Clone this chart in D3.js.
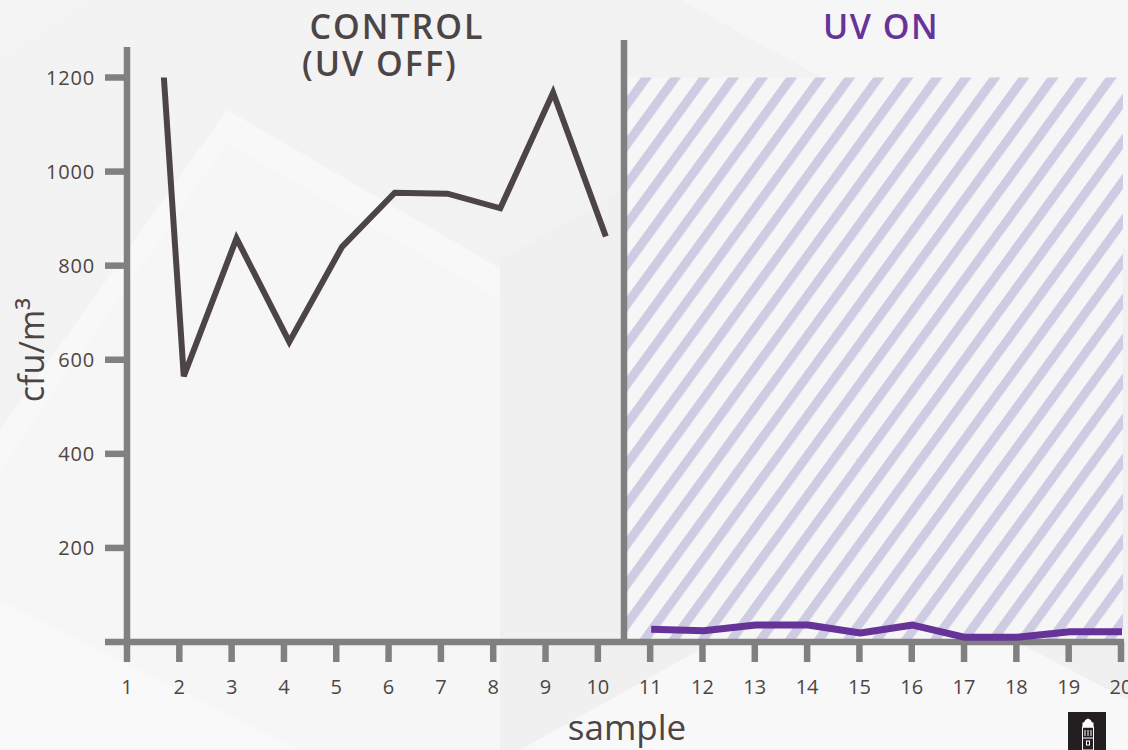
<!DOCTYPE html>
<html>
<head>
<meta charset="utf-8">
<script src="https://cdn.jsdelivr.net/npm/d3@7/dist/d3.min.js"></script>
<style>
  html, body { margin: 0; padding: 0; background: #f4f4f4; }
  svg { display: block; }
</style>
</head>
<body>
<svg id="chart" width="1128" height="750"></svg>
<script>
// chart data
var sampleTicks = [1, 2, 3, 4, 5, 6, 7, 8, 9, 10, 11, 12, 13, 14, 15, 16, 17, 18, 19, 20];
var yTicks = [200, 400, 600, 800, 1000, 1200];

var controlSamples = [1, 2, 3, 4, 5, 6, 7, 8, 9, 10];
var controlValues = [2250, 565, 858, 638, 840, 955, 953, 922, 1168, 862];

var uvSamples = [11, 12, 13, 14, 15, 16, 17, 18, 19, 20];
var uvValues = [27, 24, 36, 36, 19, 36, 10, 10, 22, 22];

var darkText = "#4d4545";
var axisGrey = "#808080";
var purple = "#663399";

var svg = d3.select("#chart");
var W = 1128, H = 750;

// scales
var x = d3.scaleLinear().domain([1, 20]).range([127, 1121]);
var y = d3.scaleLinear().domain([0, 1200]).range([642, 77.5]);
// the control trace sits a few px right of the ticks in the original
var xCtrl = d3.scaleLinear().domain([1, 10]).range([x(1) + 4, x(10) + 8]);

var defs = svg.append("defs");

// background
var bg = defs.append("linearGradient").attr("id", "bgGrad")
    .attr("x1", "0").attr("y1", "0").attr("x2", "1").attr("y2", "1");
bg.append("stop").attr("offset", "0%").attr("stop-color", "#f3f3f3");
bg.append("stop").attr("offset", "100%").attr("stop-color", "#f1f1f1");
svg.append("rect").attr("width", W).attr("height", H).attr("fill", "url(#bgGrad)");

// faint cube / hexagon shapes in the backdrop
var shapes = [
    {pts: [[0, 430], [227, 110], [520, 280], [520, 750], [0, 750]], fill: "#f8f8f8"},
    {pts: [[0, 470], [227, 143], [500, 300], [500, 750], [0, 750]], fill: "#f6f6f6"},
    {pts: [[500, 260], [800, 90], [1128, 270], [1128, 750], [500, 750]], fill: "#f0f0f0"},
    {pts: [[0, 600], [300, 750], [0, 750]], fill: "#f9f9f9"},
    {pts: [[520, 750], [860, 560], [1128, 700], [1128, 750]], fill: "#f8f8f8"},
    {pts: [[680, 0], [1128, 0], [1128, 250], [900, 120]], fill: "#f6f6f6"}
];
svg.append("g").selectAll("polygon").data(shapes).join("polygon")
    .attr("points", d => d.pts.map(p => p.join(",")).join(" "))
    .attr("fill", d => d.fill);

// hatch pattern for UV ON region
var pat = defs.append("pattern").attr("id", "hatch")
    .attr("patternUnits", "userSpaceOnUse")
    .attr("width", 23.5).attr("height", 23.5)
    .attr("patternTransform", "rotate(36)");
pat.append("rect").attr("width", 23.5).attr("height", 23.5).attr("fill", "#f6f6f6");
pat.append("rect").attr("x", 0).attr("y", 0).attr("width", 9).attr("height", 23.5)
    .attr("fill", "#cfcbe3");

svg.append("rect")
    .attr("x", x(10.5) + 3)
    .attr("y", y(1200))
    .attr("width", x(20) + 2 - x(10.5) - 3)
    .attr("height", y(0) - y(1200))
    .attr("fill", "url(#hatch)");

// clip so the first control point gets cut at the top of the scale
defs.append("clipPath").attr("id", "plotClip")
    .append("rect")
    .attr("x", 90).attr("y", y(1200))
    .attr("width", W).attr("height", y(0) - y(1200) + 10);

// axes
var axes = svg.append("g");
axes.append("line")
    .attr("x1", 127).attr("x2", 127)
    .attr("y1", 47).attr("y2", y(0))
    .attr("stroke", axisGrey).attr("stroke-width", 6.5);
axes.append("line")
    .attr("x1", 105).attr("x2", x(20) + 3)
    .attr("y1", y(0)).attr("y2", y(0))
    .attr("stroke", axisGrey).attr("stroke-width", 6.5);
// divider between control and UV ON
axes.append("line")
    .attr("x1", x(10.5)).attr("x2", x(10.5))
    .attr("y1", 40).attr("y2", y(0))
    .attr("stroke", axisGrey).attr("stroke-width", 6.5);

axes.selectAll(".ytick").data(yTicks).join("line")
    .attr("class", "ytick")
    .attr("x1", 105).attr("x2", 127)
    .attr("y1", d => y(d)).attr("y2", d => y(d))
    .attr("stroke", axisGrey).attr("stroke-width", 6.5);

axes.selectAll(".xtick").data(sampleTicks).join("line")
    .attr("class", "xtick")
    .attr("x1", d => x(d)).attr("x2", d => x(d))
    .attr("y1", y(0)).attr("y2", 662)
    .attr("stroke", axisGrey).attr("stroke-width", 6.5);

var lblFont = "'Open Sans', 'Noto Sans', sans-serif";

axes.selectAll(".ylab").data(yTicks).join("text")
    .attr("class", "ylab")
    .attr("x", 95).attr("y", d => y(d))
    .attr("dy", "0.36em")
    .attr("text-anchor", "end")
    .style("font-family", lblFont)
    .style("font-size", "20px")
    .style("letter-spacing", "0.8px")
    .attr("fill", darkText)
    .text(d => d);

axes.selectAll(".xlab").data(sampleTicks).join("text")
    .attr("class", "xlab")
    .attr("x", d => x(d)).attr("y", 694)
    .attr("text-anchor", "middle")
    .style("font-family", lblFont)
    .style("font-size", "20px")
    .attr("fill", darkText)
    .text(d => d);

// axis titles
svg.append("text")
    .attr("x", 627).attr("y", 740)
    .attr("text-anchor", "middle")
    .style("font-family", lblFont)
    .style("font-size", "35px")
    .attr("fill", darkText)
    .text("sample");

svg.append("text")
    .attr("transform", "translate(44,350) rotate(-90)")
    .attr("text-anchor", "middle")
    .style("font-family", lblFont)
    .style("font-size", "34px")
    .attr("fill", darkText)
    .text("cfu/m³");

// panel titles (two-line control title as one text block)
var titleFont = "'Open Sans', 'Noto Sans', sans-serif";
var ctrlTitle = svg.append("text")
    .style("font-family", titleFont).style("font-weight", "600")
    .style("font-size", "34px").style("letter-spacing", "2px")
    .attr("fill", darkText);
ctrlTitle.append("tspan")
    .attr("x", 397).attr("y", 39)
    .attr("text-anchor", "middle")
    .text("CONTROL");
ctrlTitle.append("tspan")
    .attr("x", 302).attr("y", 76)
    .attr("text-anchor", "start")
    .text("(UV OFF)");

svg.append("text")
    .attr("x", 881).attr("y", 39)
    .attr("text-anchor", "middle")
    .style("font-family", titleFont).style("font-weight", "600")
    .style("font-size", "34px").style("letter-spacing", "1.5px")
    .attr("fill", purple)
    .text("UV ON");

// lines
var control = controlSamples.map((s, i) => ({s: s, v: controlValues[i]}));
var uv = uvSamples.map((s, i) => ({s: s, v: uvValues[i]}));

svg.append("path")
    .datum(control)
    .attr("clip-path", "url(#plotClip)")
    .attr("d", d3.line().x(d => xCtrl(d.s)).y(d => y(d.v)))
    .attr("fill", "none")
    .attr("stroke", darkText)
    .attr("stroke-width", 6)
    .attr("stroke-linejoin", "miter");

svg.append("path")
    .datum(uv)
    .attr("d", d3.line().x(d => x(d.s) + 1).y(d => y(d.v)))
    .attr("fill", "none")
    .attr("stroke", purple)
    .attr("stroke-width", 7)
    .attr("stroke-linejoin", "round");

// little logo, bottom right
var logo = svg.append("g").attr("transform", "translate(1068,712)");
logo.append("rect").attr("width", 38).attr("height", 38).attr("fill", "#231f20");
var tw = logo.append("g").attr("fill", "none").attr("stroke", "#ffffff").attr("stroke-width", 1);
tw.append("path").attr("d", "M16,11 Q20,3 24,11 Z").attr("fill", "#ffffff");
tw.append("rect").attr("x", 15).attr("y", 11).attr("width", 10).attr("height", 4).attr("fill", "#ffffff");
tw.append("rect").attr("x", 14.5).attr("y", 15).attr("width", 11).attr("height", 23);
tw.append("path").attr("d", "M17,18 V24 M20,18 V24 M23,18 V24 M15,26 H25");
tw.append("rect").attr("x", 18.5).attr("y", 29).attr("width", 3).attr("height", 4);
</script>
</body>
</html>
